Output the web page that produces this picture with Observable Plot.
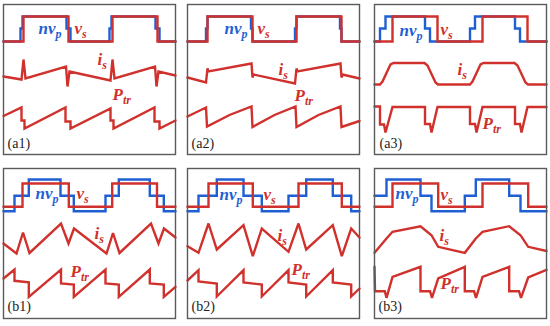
<!DOCTYPE html>
<html><head><meta charset="utf-8">
<script src="https://cdn.jsdelivr.net/npm/d3@7"></script>
<script src="https://cdn.jsdelivr.net/npm/@observablehq/plot@0.6"></script>
<style>
body{margin:0;background:#fff;}
#fig{position:relative;width:550px;height:326px;background:#fff;}
#fig > div{position:absolute;}
#fig svg text, #fig svg tspan{font-family:"Liberation Serif", "DejaVu Serif", serif !important;}
</style></head><body><div id="fig"></div>
<script>
// ---------- data: time (a.u.) and amplitude (a.u.) of each waveform ----------
const panelTags = ["(a1)","(a2)","(a3)","(b1)","(b2)","(b3)"];
const traceNames = ["nv_p","v_s","i_s","P_tr"];

// (a1)
const a1_vs_t  = [0,20,20,65,65,109,109,154,154,172];
const a1_vs    = [0,0,25,25,0,0,25,25,0,0];
const a1_nvp_t = [0,17,17,19,19,63,63,67,67,106,106,108,108,152,152,156,156,172];
const a1_nvp   = [0,0,13,13,25,25,13,13,0,0,13,13,25,25,13,13,0,0];
const a1_is_t  = [0,18,20,22,62.5,64,66,107,109,111,151.5,153,155,172];
const a1_is    = [4,1,21,2,14,-6,9,0,21,2,14,-6,9,5];
const a1_ptr_t = [0,18,18,21,21,62,62,67,67,107,107,110,110,151,151,156,156,172];
const a1_ptr   = [12.5,21,8,8,0,21,7,7,0,20,8,8,0,21,7,7,0,8];
// (a2)
const a2_vs_t  = [0,20,20,65,65,109,109,154,154,172];
const a2_vs    = [0,0,25,25,0,0,25,25,0,0];
const a2_nvp_t = [0,18.5,18.5,20,20,63.5,63.5,65,65,107.5,107.5,109,109,152.5,152.5,154,154,172];
const a2_nvp   = [0,0,13,13,25,25,13,13,0,0,13,13,25,25,13,13,0,0];
const a2_is_t  = [0,18.5,20,21,64,65,66,107.5,109,110,153,154,155,172];
const a2_is    = [3,-2,12,9,17,3,6,-3,12,9,17,3,6,2];
const a2_ptr_t = [0,18.5,19.5,42,64,65,87,108,109,131,153,154,172];
const a2_ptr   = [12,21,2,13.5,22,1.5,13.5,22,1.5,13.5,22,1.5,7.5];
// (a3)
const a3_vs_t  = [0,18,18,63,63,108,108,153,153,172];
const a3_vs    = [0,0,25,25,0,0,25,25,0,0];
const a3_nvp_t = [0,5.5,5.5,11,11,50.5,50.5,55.5,55.5,95.5,95.5,100.5,100.5,140.5,140.5,145.5,145.5,172];
const a3_nvp   = [0,0,13,13,25,25,13,13,0,0,13,13,25,25,13,13,0,0];
const a3_is_t  = [0,5.5,8,16,19,50,53,61,63.5,95.5,98,106,109,140,143,151,153.5,172];
const a3_is    = [0,0,3,20,21.5,21.5,19,2,0,0,3,20,21.5,21.5,19,2,0,0];
const a3_ptr_t = [0,5.5,5.5,9.5,11,18,50.5,50.5,55.5,57,63,95.5,95.5,100.5,102,108,140.5,140.5,145.5,147,153,172];
const a3_ptr   = [26,26,8,8,0,25.5,25.5,8.5,8.5,0,25.5,25.5,8.5,8.5,0,25.5,25.5,8.5,8.5,0,25.5,25.5];
// (b1)
const b1_vs_t  = [0,19,19,65.3,65.3,108.7,108.7,153.5,153.5,172];
const b1_vs    = [0,0,23.3,23.3,0,0,23.3,23.3,0,0];
const b1_nvp_t = [0,11,11,25.3,25.3,57,57,70.3,70.3,102,102,115.3,115.3,146.3,146.3,160.3,160.3,172];
const b1_nvp   = [-4.4,-4.4,11,11,27.3,27.3,11,11,-4.4,-4.4,11,11,27.3,27.3,11,11,-4.4,-4.4];
const b1_is_t  = [0,13,19.5,26,57.5,65,70.5,103,109.5,116,147.5,155,160.5,172];
const b1_is    = [10,0,21,0.5,30,10,25,0,20.5,0.5,30,10,25,16];
const b1_ptr_t = [0,11,11,25.3,25.3,57.5,57.5,70.3,70.3,102,102,115.3,115.3,146.3,146.3,160.3,160.3,172];
const b1_ptr   = [18.3,27.3,16,14.5,0,27.3,13.3,12.3,0,27.3,13.3,12.3,0,27.3,13.3,12.3,0,10];
// (b2)
const b2_vs_t  = [0,21,21,65.3,65.3,111,111,154.3,154.3,172];
const b2_vs    = [0,0,23.3,23.3,0,0,23.3,23.3,0,0];
const b2_nvp_t = [0,11,11,29.3,29.3,56,56,74.3,74.3,101,101,118.7,118.7,145.3,145.3,163.7,163.7,172];
const b2_nvp   = [-4.4,-4.4,11,11,27.3,27.3,11,11,-4.4,-4.4,11,11,27.3,27.3,11,11,-4.4,-4.4];
const b2_is_t  = [0,11,21,29.3,56,65.3,74.3,101,111,118.7,145.3,154.3,163.7,172];
const b2_is    = [10.3,3.7,33,7,31.3,0.3,28,4.7,33,7,31.3,0.3,28,19];
const b2_ptr_t = [0,11,11,29.3,29.3,56,56,74.3,74.3,101,101,118.7,118.7,145.3,145.3,163.7,163.7,172];
const b2_ptr   = [16,26.3,15,13,0,26.3,14,12,0,26.3,14,12,0,26.3,14,12,0,8];
// (b3)
const b3_vs_t  = [0,18,18,63.7,63.7,108,108,153.7,153.7,172];
const b3_vs    = [0,0,23.3,23.3,0,0,23.3,23.3,0,0];
const b3_nvp_t = [0,12,12,46,46,57,57,90.3,90.3,101.3,101.3,134.7,134.7,146,146,172];
const b3_nvp   = [11,11,27.3,27.3,11,11,-4.4,-4.4,11,11,27.3,27.3,11,11,-4.4,-4.4];
const b3_is_t  = [0,12,18,46,57,63.7,90.3,101.3,108,134.7,146,153.7,172];
const b3_is    = [0.7,15,21.7,27.3,18.3,6.7,0.7,15,21.7,27.3,18.3,6.7,2.5];
const b3_ptr_t = [0,0.5,10.3,12,18,46,46,55.5,57.5,63.7,90.3,90.3,99.5,101.5,108,134.7,134.7,144.5,146.5,153.7,172];
const b3_ptr   = [31,6.6,6.6,0,21,31,6.6,6.6,0,19.3,31,6.6,6.6,0,21,31,6.6,6.6,0,20.3,28];

const series = [
  {nvp:[a1_nvp_t,a1_nvp], vs:[a1_vs_t,a1_vs], is:[a1_is_t,a1_is], ptr:[a1_ptr_t,a1_ptr]},
  {nvp:[a2_nvp_t,a2_nvp], vs:[a2_vs_t,a2_vs], is:[a2_is_t,a2_is], ptr:[a2_ptr_t,a2_ptr]},
  {nvp:[a3_nvp_t,a3_nvp], vs:[a3_vs_t,a3_vs], is:[a3_is_t,a3_is], ptr:[a3_ptr_t,a3_ptr]},
  {nvp:[b1_nvp_t,b1_nvp], vs:[b1_vs_t,b1_vs], is:[b1_is_t,b1_is], ptr:[b1_ptr_t,b1_ptr]},
  {nvp:[b2_nvp_t,b2_nvp], vs:[b2_vs_t,b2_vs], is:[b2_is_t,b2_is], ptr:[b2_ptr_t,b2_ptr]},
  {nvp:[b3_nvp_t,b3_nvp], vs:[b3_vs_t,b3_vs], is:[b3_is_t,b3_is], ptr:[b3_ptr_t,b3_ptr]}
];

// ---------- layout (positions and styles) ----------
const L = {
  lefts:[3,187,374], tops:[4,168], w:172, h:150,
  base:[[37,76,124],[37,76,124],[37,80,128],[38.3,85,128.3],[38.3,88,128],[38.3,85,129.3]],
  lab:[
    [[35,29],[71,29],[94,60],[109,95],[4,143]],
    [[37,29],[70,29],[91,70],[107,96],[4,143]],
    [[25,31],[66,30],[83,70],[108,124],[5,143]],
    [[32,30],[73,30],[91,70],[67,108],[4,142]],
    [[32,31],[76,31],[90,72],[104,106],[4,142]],
    [[21,30],[66,31],[65,72],[66,120],[4,142]]
  ]
};
const RED = "#d0312d", BLUE = "#1f5fd4";
const SERIF = "Liberation Serif";

function rows([t, v], base){ return t.map((ti,i)=>({t:ti, y: base - v[i]})); }

const fig = document.getElementById("fig");
series.forEach((s, i) => {
  const col = i % 3, row = Math.floor(i / 3);
  const [bv, bi, bp] = L.base[i];
  const lab = L.lab[i];
  const names = traceNames.map((n,k)=>({name:n, x:lab[k][0], y:lab[k][1], blue:k===0}));
  const lineOpt = {x:"t", y:"y", strokeWidth:2.4, strokeLinejoin:"miter", strokeMiterlimit:3};
  const font = {fontFamily:SERIF, fontWeight:"bold", fontStyle:"italic", fontSize:17, textAnchor:"start", lineAnchor:"bottom"};
  const svg = Plot.plot({
    width: L.w + 2, height: L.h + 2, margin: 1,
    x: {domain:[0, L.w], range:[1, L.w + 1], axis:null},
    y: {domain:[0, L.h], range:[1, L.h + 1], axis:null},
    style: {background:"transparent", overflow:"visible"},
    marks: [
      Plot.line(rows(s.nvp, bv), {...lineOpt, stroke:BLUE}),
      Plot.line(rows(s.vs, bv), {...lineOpt, stroke:RED}),
      Plot.line(rows(s.is, bi), {...lineOpt, stroke:RED}),
      Plot.line(rows(s.ptr, bp), {...lineOpt, stroke:RED}),
      Plot.text(names.filter(d=>d.blue), {...font, x:"x", y:"y", text:"name", fill:BLUE}),
      Plot.text(names.filter(d=>!d.blue), {...font, x:"x", y:"y", text:"name", fill:RED}),
      Plot.text([{tag:panelTags[i], x:lab[4][0], y:lab[4][1]}], {x:"x", y:"y", text:"tag", fill:"#222", fontFamily:SERIF, fontSize:14, textAnchor:"start", lineAnchor:"bottom"}),
      Plot.frame({stroke:"#5a5a5a", strokeWidth:1.4})
    ]
  });
  svg.querySelectorAll("text").forEach(el => {
    const txt = el.textContent;
    if (txt.includes("_")) {
      const [main, sub] = txt.split("_");
      el.textContent = "";
      const ns = "http://www.w3.org/2000/svg";
      const a = document.createElementNS(ns, "tspan"); a.textContent = main;
      const b = document.createElementNS(ns, "tspan"); b.textContent = sub;
      b.setAttribute("dy", "4"); b.setAttribute("font-size", "12");
      el.appendChild(a); el.appendChild(b);
    }
  });
  const wrap = document.createElement("div");
  wrap.style.left = (L.lefts[col] - 1) + "px";
  wrap.style.top = (L.tops[row] - 1) + "px";
  wrap.appendChild(svg);
  fig.appendChild(wrap);
});
</script></body></html>
